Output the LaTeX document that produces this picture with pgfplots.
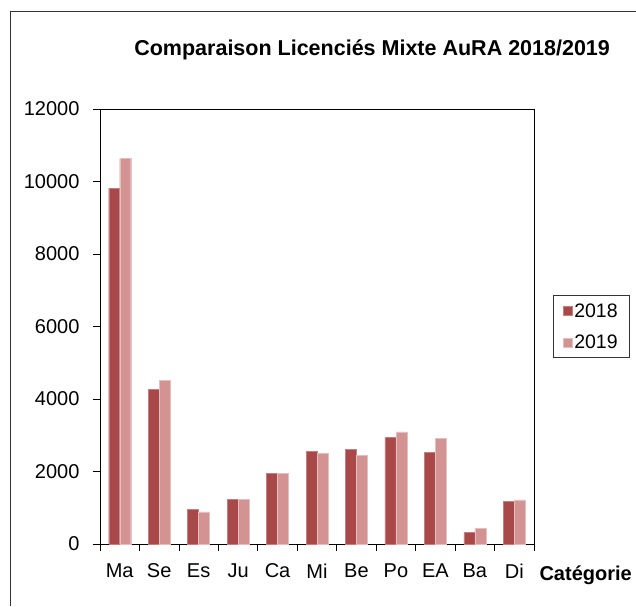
\documentclass[border=0pt]{standalone}
\usepackage{pgfplots}
\pgfplotsset{compat=1.18}
\usepackage{fontspec}
\setmainfont{Liberation Sans}
\definecolor{cA}{RGB}{168,72,72}
\definecolor{cB}{RGB}{211,147,147}
\begin{document}
\begin{tikzpicture}
\useasboundingbox (0pt,0pt) rectangle (636pt,606pt);
\draw[line width=1pt, black!80] (10pt,0pt) -- (10pt,594pt) -- (636pt,594pt);
\begin{axis}[
  at={(100pt,62pt)}, anchor=south west,
  scale only axis, width=434pt, height=435pt,
  ybar=0pt, bar width=11pt,
  xmin=-0.5, xmax=10.5, ymin=0, ymax=12000,
  xtick={0,...,10},
  xticklabels={Ma,Se,Es,Ju,Ca,Mi,Be,Po,EA,Ba,Di},
  minor xtick={-0.5,0.5,...,10.5},
  ytick={0,2000,...,12000},
  scaled y ticks=false,
  tick pos=left, tick align=outside,
  major tick length=7pt, minor tick length=7pt,
  x tick style={draw=none}, minor x tick style={draw=black, line width=0.8pt},
  y tick style={black, line width=0.8pt},
  axis line style={line width=0.8pt},
  /pgf/number format/1000 sep={},
  /pgf/number format/assume math mode=true,
  tick label style={font=\fontsize{20}{24}\selectfont},
  yticklabel style={xshift=-10pt},
  xticklabel style={yshift=-9pt},
  title={\textbf{Comparaison Licenciés Mixte AuRA 2018/2019}},
  title style={font=\fontsize{21.5}{25}\selectfont, at={(axis description cs:0.627,1)}, anchor=base, yshift=47pt},
  xlabel={\textbf{Catégorie}},
  xlabel style={font=\fontsize{20}{24}\selectfont, at={(axis description cs:1,0)}, anchor=base west, xshift=2pt, yshift=-36pt},
  legend style={at={(axis description cs:1.0438,0.572)}, anchor=north west, font=\fontsize{19.5}{23}\selectfont, draw=black!80, line width=0.8pt, row sep=12pt, inner xsep=9.5pt, inner ysep=6pt},
  legend cell align=left,
  legend image code/.code={\fill[#1] (0pt,-4.5pt) rectangle (9pt,4.5pt);},
]
\addplot[fill=cA, draw=cA!70!white, line width=0.4pt] coordinates {
(0,9820) (1,4270) (2,950) (3,1230) (4,1958) (5,2547) (6,2602) (7,2933) (8,2529) (9,322) (10,1186)};
\addplot[fill=cB, draw=cB!60!white, line width=0.4pt] coordinates {
(0,10640) (1,4515) (2,883) (3,1235) (4,1940) (5,2510) (6,2455) (7,3090) (8,2906) (9,441) (10,1214)};
\legend{2018,2019}
\end{axis}
\end{tikzpicture}
\end{document}
